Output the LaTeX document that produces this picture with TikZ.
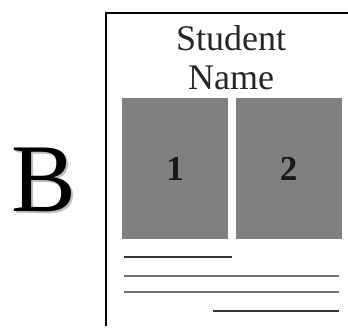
\documentclass[tikz,border=0pt]{standalone}
\usepackage{fontspec}
\setmainfont{Liberation Serif}
\usepackage{tikz}
\usetikzlibrary{positioning}

\begin{document}
\begin{tikzpicture}[x=1pt, y=-1pt,
            panel/.style={fill=black!50, minimum width=106pt, minimum height=141pt, inner sep=0pt},
            digit/.style={font=\fontsize{35}{35}\selectfont\bfseries, text=black!90},
            title/.style={font=\fontsize{36}{39}\selectfont, text=black!85, align=center},
            rule/.style={line width=2pt}]
            \useasboundingbox (0,0) rectangle (348,327);

            % Buchstabe links (mit Schatten)
            \node[font=\fontsize{97}{97}\selectfont] (letter) at (43.5,180.5)
                {\rlap{\kern2pt\raisebox{-2pt}{\color{black!25}B}}B};

            % Blattrand
            \draw[line width=1.6pt] (106,326) -- (106,13) -- (348,13);

            % Ueberschrift
            \node[title] (name) at (231,58) {Student\\Name};

            % Bildfelder
            \node[panel] (panelA) at (175,168.5) {};
            \node[panel] (panelB) at (288.5,168.5) {};
            \node[digit] at (panelA) {1};
            \node[digit] at (panelB) {2};

            % Textzeilen
            \draw[rule, black!80] (124,257) -- (232,257);
            \draw[rule, black!55] (124,276) -- (339,276);
            \draw[rule, black!55] (124,292) -- (339,292);
            \draw[rule, black!80] (213,311) -- (339,311);
        \end{tikzpicture}
\end{document}
